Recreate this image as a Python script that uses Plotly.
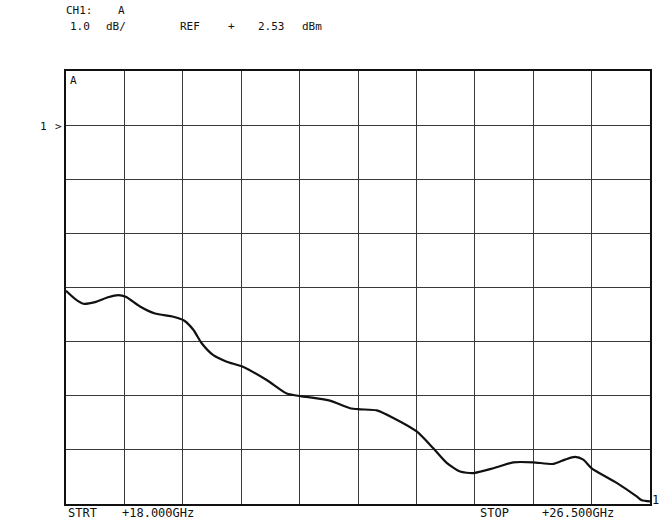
import plotly.graph_objects as go

# Sweep frequencies (GHz) and measured level of channel A (dBm)
freq_ghz = [18.000, 18.131, 18.252, 18.422, 18.611, 18.761, 18.869, 19.077, 19.295,
            19.562, 19.717, 19.853, 19.975, 20.144, 20.339, 20.566, 20.921, 21.212,
            21.430, 21.551, 21.842, 22.134, 22.279, 22.522, 22.764, 23.104, 23.346,
            23.541, 23.735, 23.928, 24.219, 24.510, 24.801, 25.093, 25.263, 25.408,
            25.529, 25.651, 26.015, 26.306, 26.379, 26.500]
level_dbm = [-0.53, -0.68, -0.77, -0.74, -0.65, -0.61, -0.64, -0.82, -0.95,
             -1.01, -1.08, -1.25, -1.50, -1.72, -1.84, -1.93, -2.18, -2.43,
             -2.48, -2.50, -2.56, -2.70, -2.72, -2.74, -2.88, -3.13, -3.44,
             -3.71, -3.87, -3.90, -3.81, -3.70, -3.70, -3.73, -3.65, -3.60,
             -3.65, -3.81, -4.08, -4.33, -4.40, -4.42]

start_ghz = 18.0
stop_ghz = 26.5
ref_dbm = 2.53
scale_db = 1.0
n_div_x = 10
n_div_y = 8
ref_div_from_top = 1

header_1 = [("CH1:", 64), ("A", 116)]
header_2 = [("1.0", 68), ("dB/", 104), ("REF", 178), ("+", 226), ("2.53", 256), ("dBm", 300)]
footer = [("STRT", 66), ("+18.000GHz", 120), ("STOP", 478), ("+26.500GHz", 540)]

W, H = 660, 521
L, R, T, B = 66, 10, 71, 17
PW, PH = W - L - R, H - T - B

top_dbm = ref_dbm + ref_div_from_top * scale_db
bot_dbm = top_dbm - n_div_y * scale_db

FONT = "DejaVu Sans Mono"
INK = "#111111"


def px(x):
    return (x - L) / PW


def py(y):
    return (H - B - y) / PH


fig = go.Figure()
fig.add_trace(go.Scatter(
    x=freq_ghz, y=level_dbm, mode="lines",
    line=dict(color=INK, width=2.2, shape="spline", smoothing=0.6),
    hoverinfo="skip", showlegend=False,
))

annotations = []


def label(text, x, y, size=12, anchor="left"):
    annotations.append(dict(
        text=text, x=px(x), y=py(y), xref="paper", yref="paper",
        xanchor=anchor, yanchor="middle", showarrow=False,
        font=dict(family=FONT, size=size, color=INK),
    ))


for t, x in header_1:
    label(t, x, 11, size=11)
for t, x in header_2:
    label(t, x, 26, size=11)
for t, x in footer:
    label(t, x, 513)

label("A", 68, 80, size=11)
label("1", 38, 127, size=11)
label(">", 53, 126, size=11)
label("1", 650, 500, size=12)

fig.update_layout(
    width=W, height=H,
    margin=dict(l=L, r=R, t=T, b=B, autoexpand=False),
    paper_bgcolor="white", plot_bgcolor="white",
    annotations=annotations,
    xaxis=dict(
        range=[start_ghz, stop_ghz], tick0=start_ghz,
        dtick=(stop_ghz - start_ghz) / n_div_x,
        showgrid=True, gridcolor="#3a3a3a", gridwidth=1,
        showticklabels=False, ticks="", zeroline=False,
        showline=True, linecolor=INK, linewidth=1.5, mirror=True,
    ),
    yaxis=dict(
        range=[bot_dbm, top_dbm], tick0=bot_dbm, dtick=scale_db,
        showgrid=True, gridcolor="#3a3a3a", gridwidth=1,
        showticklabels=False, ticks="", zeroline=False,
        showline=True, linecolor=INK, linewidth=1.5, mirror=True,
    ),
)

fig.write_html("out.html")
